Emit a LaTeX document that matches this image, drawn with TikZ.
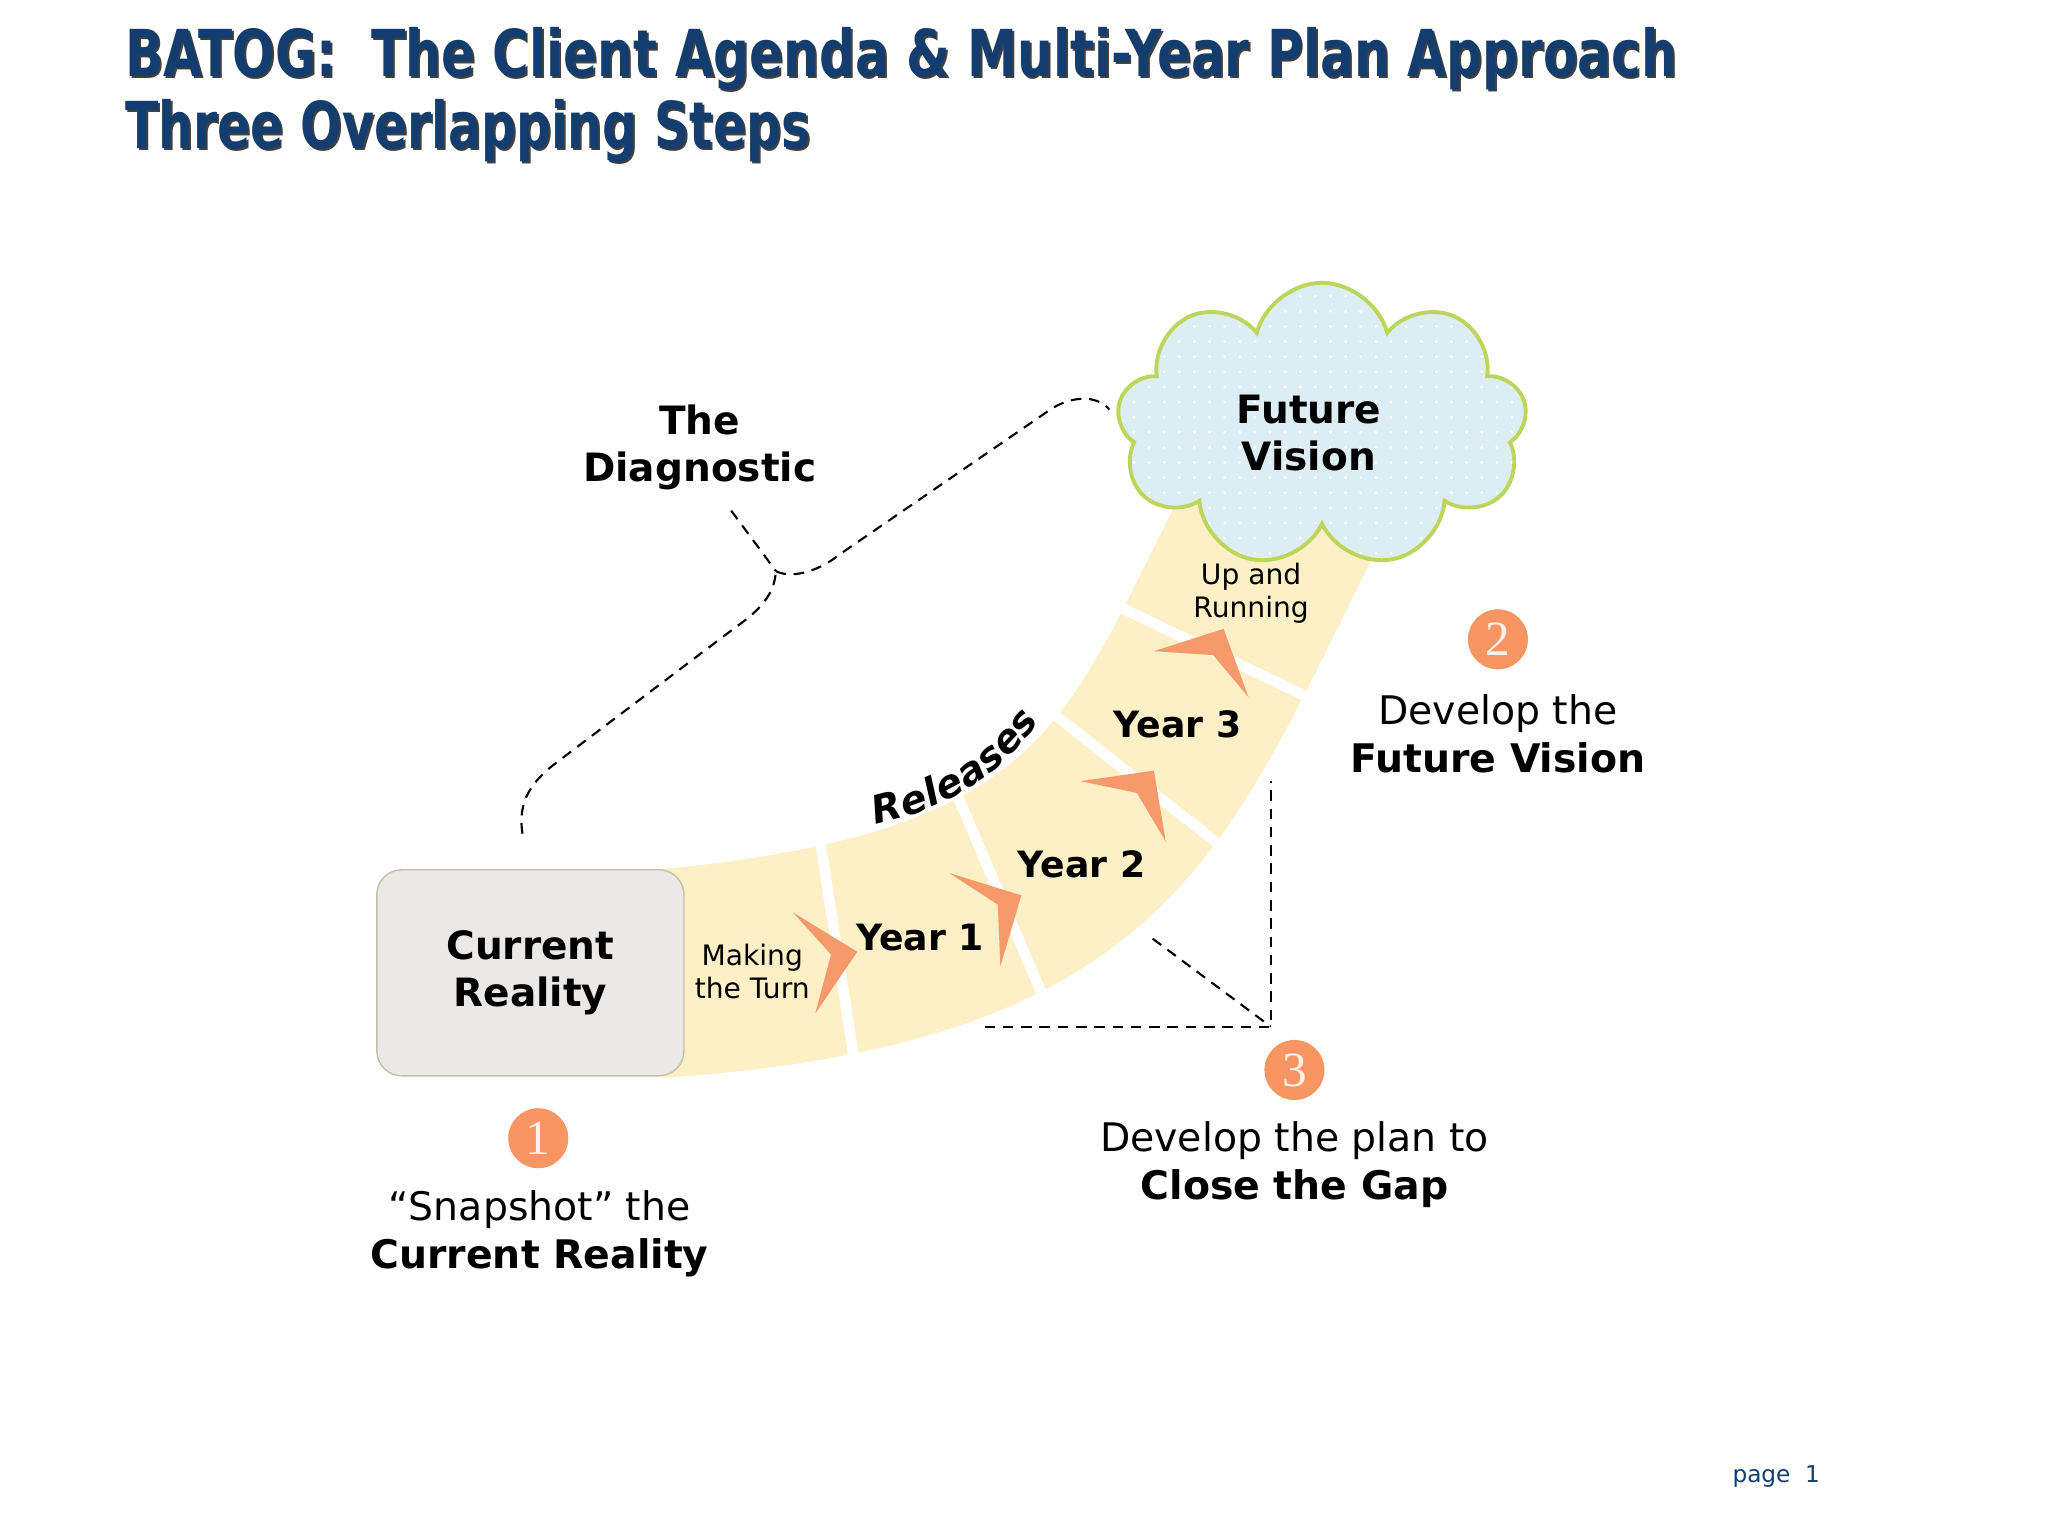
\documentclass[tikz,border=0pt]{standalone}
\usepackage{fontspec}
\setmainfont{DejaVu Sans}
\newfontfamily\numfont{Liberation Serif}
\usetikzlibrary{shapes.symbols,patterns,decorations.text}

\definecolor{bandyellow}{HTML}{FDF0C6}
\definecolor{chevorange}{HTML}{F7996A}
\definecolor{numorange}{HTML}{F79662}
\definecolor{numtext}{HTML}{FFF1E6}
\definecolor{cloudblue}{HTML}{DCEDF3}
\definecolor{cloudline}{HTML}{BCD65C}
\definecolor{boxgray}{HTML}{EAE9E7}
\definecolor{boxline}{HTML}{C4C0A6}
\definecolor{titleblue}{HTML}{123D6E}

% sparse white dots for the cloud
\pgfdeclarepatternformonly{clouddots}{\pgfqpoint{-1pt}{-1pt}}{\pgfqpoint{1pt}{1pt}}{\pgfqpoint{4.3pt}{4.3pt}}
  {\pgfpathcircle{\pgfqpoint{0pt}{0pt}}{0.45pt}\pgfusepath{fill}}

\tikzset{
  yearlabel/.style={font=\fontsize{10.3}{12}\selectfont\bfseries},
  smalllabel/.style={font=\fontsize{8}{9.3}\selectfont, align=center},
  biglabel/.style={font=\fontsize{11.1}{13.4}\selectfont\bfseries, align=center},
  steplabel/.style={font=\fontsize{11.2}{13.6}\selectfont, align=center},
  stepnum/.style={circle, fill=numorange, minimum size=0.6cm, inner sep=0pt,
    text=numtext, font=\numfont\fontsize{14}{14}\selectfont},
  divider/.style={white, line width=3pt, shorten <=-4pt, shorten >=-4pt},
  chevron/.style={fill=chevorange},
  gapline/.style={dash pattern=on 3pt off 2.2pt, line width=0.6pt},
  titletext/.style={anchor=base west, font=\fontsize{18.4}{20}\selectfont\bfseries, inner sep=0pt},
}

\begin{document}
\begin{tikzpicture}[x=0.013128cm, y=-0.013128cm]
  \useasboundingbox (0,0) rectangle (1560,1170);

  % Title
  \node[titletext, text=black!75] at (96.5,59.5) {\scalebox{0.775}[1]{BATOG:\ \ The Client Agenda \& Multi-Year Plan Approach}};
  \node[titletext, text=titleblue] (title1) at (95,58) {\scalebox{0.775}[1]{BATOG:\ \ The Client Agenda \& Multi-Year Plan Approach}};
  \node[titletext, text=black!75] at (96.5,114.5) {\scalebox{0.755}[1]{Three Overlapping Steps}};
  \node[titletext, text=titleblue] (title2) at (95,113) {\scalebox{0.755}[1]{Three Overlapping Steps}};

  % The road
  \fill[bandyellow] (505,821) .. controls (895,795) and (935,642) .. (1048,420) -- (1060,392)
    -- (900,372) -- (890,395) .. controls (809,555) and (790,634) .. (505,662) -- cycle;

  % Gaps between the years
  \draw[divider] (626,649) -- (651,809);
  \draw[divider] (734,617) -- (797,765);
  \draw[divider] (803,544) -- (932,646);
  \draw[divider] (854,463) -- (996,531);

  % Chevrons
  \foreach \wa/\tp/\wb/\nt in {{604,695}/{653,725}/{621,772}/{633,727},
                               {723,665}/{778,682}/{762,736}/{760,689},
                               {823,595}/{879,587}/{888,641}/{866,604},
                               {879,496}/{932,479}/{951,531}/{924,499}}
    \fill[chevron] (\wa) -- (\tp) -- (\wb) -- (\nt) -- cycle;

  % Labels on the road
  \node[smalllabel] (turn) at (573,740) {Making\\the Turn};
  \node[yearlabel] (year1) at (701,714) {Year 1};
  \node[yearlabel] (year2) at (824,658) {Year 2};
  \node[yearlabel] (year3) at (897,552) {Year 3};
  \node[smalllabel] (running) at (953,452) {Up and\\Running};
  \path[decoration={text along path, text align=fit to path,
      text={|\fontsize{11}{11}\selectfont\bfseries\itshape|Releases}}, decorate]
    (667,628) .. controls (718,617) and (760,594) .. (792,549);

  % Current Reality and Future Vision
  \node[biglabel, draw=boxline, fill=boxgray, rounded corners=0.25cm,
    minimum width=3.07cm, minimum height=2.06cm] (reality) at (404,741) {Current\\Reality};
  \node[cloud, cloud puffs=9, draw=cloudline, line width=1.1pt,
    minimum width=4.1cm, minimum height=2.85cm, preaction={fill=cloudblue},
    pattern=clouddots, pattern color=white] (vision) at (1007,324) {};
  \node[biglabel] (visiontext) at (997,330) {Future\\Vision};

  % The Diagnostic
  \node[biglabel] (diag) at (533,341) {The\\Diagnostic};
  \coordinate (tip) at (591,435);
  \draw[gapline] (557,389) -- (tip);
  \draw[gapline] (398,635) .. controls (394,610) and (405,595) .. (425,580) -- (560,478)
    .. controls (583,462) and (590,450) .. (tip);
  \draw[gapline] (tip) .. controls (600,440) and (620,438) .. (640,422) -- (800,312)
    .. controls (815,302) and (835,300) .. (845,312);

  % Closing the gap
  \coordinate (gapL) at (750,782);
  \coordinate (gapC) at (968,782);
  \coordinate (gapT) at (968,595);
  \coordinate (gapD) at (878,715);
  \draw[gapline] (gapL) -- (gapC) -- (gapT);
  \draw[gapline] (gapD) -- (gapC);

  % Steps
  \node[stepnum] (n1) at (410,867) {1};
  \node[stepnum] (n2) at (1141,487) {2};
  \node[stepnum] (n3) at (986,815) {3};
  \node[steplabel] (s1) at (411,940) {“Snapshot” the\\\textbf{Current Reality}};
  \node[steplabel] (s2) at (1141,559) {Develop the\\\textbf{Future Vision}};
  \node[steplabel] (s3) at (986,887) {Develop the plan to\\\textbf{Close the Gap}};

  \node[text=titleblue, font=\fontsize{6.6}{8}\selectfont] (page) at (1353,1125) {page\ \ 1};
\end{tikzpicture}
\end{document}
